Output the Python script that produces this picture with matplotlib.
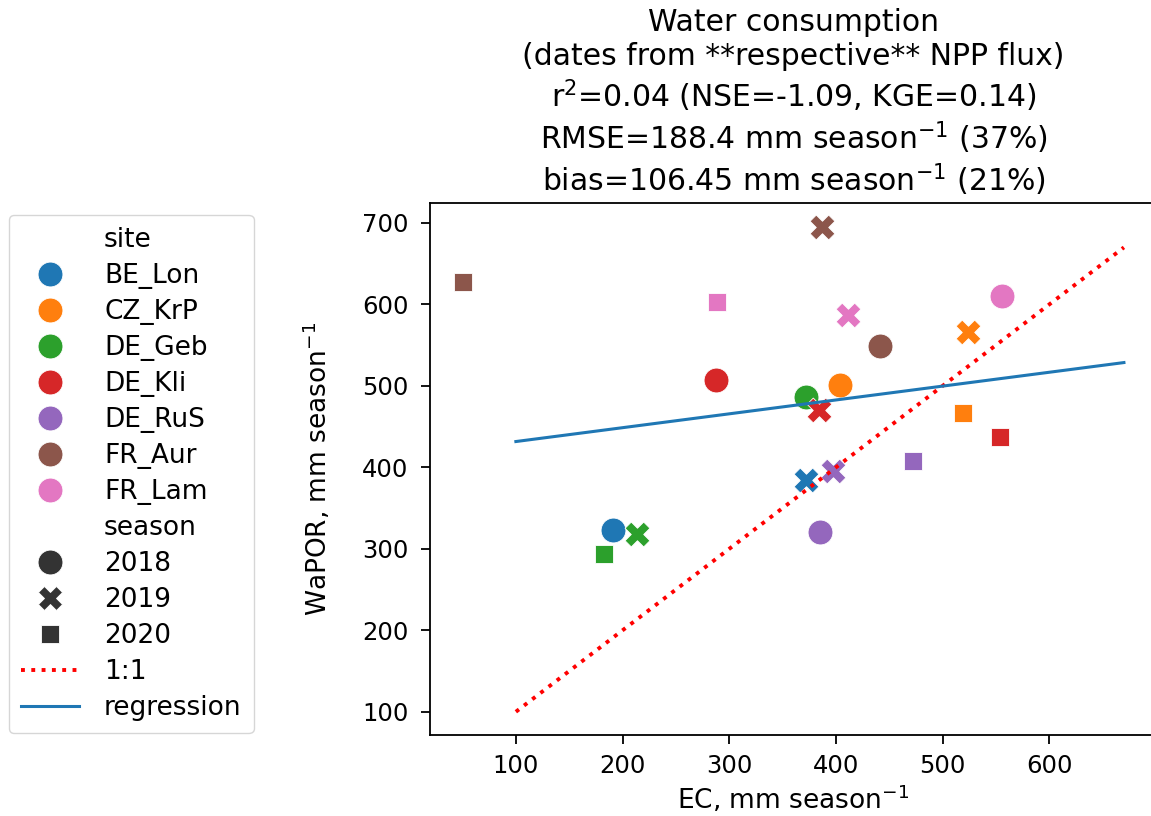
import numpy as np
import matplotlib
matplotlib.use("Agg")
import matplotlib.pyplot as plt
from matplotlib.lines import Line2D

# sites and seasons
sites = ['BE_Lon', 'CZ_KrP', 'DE_Geb', 'DE_Kli', 'DE_RuS', 'FR_Aur', 'FR_Lam']
seasons = [2018, 2019, 2020]

# one entry per site-season
point_site = ['BE_Lon', 'BE_Lon',
              'CZ_KrP', 'CZ_KrP', 'CZ_KrP',
              'DE_Geb', 'DE_Geb', 'DE_Geb',
              'DE_Kli', 'DE_Kli', 'DE_Kli',
              'DE_RuS', 'DE_RuS', 'DE_RuS',
              'FR_Aur', 'FR_Aur', 'FR_Aur',
              'FR_Lam', 'FR_Lam', 'FR_Lam']
point_season = [2018, 2019,
                2018, 2019, 2020,
                2018, 2019, 2020,
                2018, 2019, 2020,
                2018, 2019, 2020,
                2018, 2019, 2020,
                2018, 2019, 2020]
ec = [190.6, 372.4,
      403.7, 523.9, 519.2,
      372.4, 213.7, 182.5,
      287.2, 384.3, 553.6,
      385.3, 397.4, 472.7,
      441.2, 387.4, 50.6,
      555.8, 411.4, 289.0]
wapor = [323.1, 384.0,
         501.7, 566.3, 466.2,
         486.7, 317.9, 294.2,
         506.7, 470.2, 437.6,
         321.2, 395.5, 408.2,
         548.7, 695.0, 627.6,
         610.5, 587.6, 602.6]

# x range used for the 1:1 and regression lines
line_range = [100, 670]

title = ("Water consumption\n(dates from **respective** NPP flux)\n"
         "r$^2$=0.04 (NSE=-1.09, KGE=0.14)\n"
         "RMSE=188.4 mm season$^{-1}$ (37%)\n"
         "bias=106.45 mm season$^{-1}$ (21%)")

colors = dict(zip(sites, plt.get_cmap('tab10').colors))
markers = {2018: 'o', 2019: 'X', 2020: (4, 0, 45)}
msize = 320

plt.rcParams['axes.linewidth'] = 1.3

fig = plt.figure(figsize=(11.51, 8.16), dpi=100)
ax = fig.add_axes([430 / 1151, 81 / 816, 727 / 1151, 532 / 816])

for s, yr, x, y in zip(point_site, point_season, ec, wapor):
    ax.scatter(x, y, s=msize, color=colors[s], marker=markers[yr],
               edgecolors='white', linewidths=0.6, zorder=2)

ec_arr = np.array(ec)
wp_arr = np.array(wapor)
lx = np.array(line_range)
ax.plot(lx, lx, ':', color='red', lw=2.8, zorder=3)
slope, icpt = np.polyfit(ec_arr, wp_arr, 1)
ax.plot(lx, slope * lx + icpt, '-', color='#1f77b4', lw=2.2, zorder=3)

ax.set_xlim(19.5, 701)
ax.set_ylim(71.5, 724.5)
ax.set_xticks([100, 200, 300, 400, 500, 600])
ax.set_yticks([100, 200, 300, 400, 500, 600, 700])
ax.tick_params(labelsize=17.5, length=6.5, width=1.3)
ax.tick_params(axis='x', pad=7.5)
ax.tick_params(axis='y', pad=9)

ax.set_xlabel('EC, mm season$^{-1}$', fontsize=19, labelpad=4)
ax.set_ylabel('WaPOR, mm season$^{-1}$', fontsize=19)
ax.yaxis.set_label_coords(-0.133, 0.5)
ax.set_title(title, fontsize=21.5, linespacing=1.2, pad=8)

# legend: site colours, season markers, then the two lines
ms = np.sqrt(msize)
handles = [Line2D([], [], linestyle='', marker='')]
labels = ['site']
for s in sites:
    handles.append(Line2D([], [], linestyle='', marker='o', markersize=ms,
                          color=colors[s], markeredgecolor='white', markeredgewidth=0.6))
    labels.append(s)
handles.append(Line2D([], [], linestyle='', marker=''))
labels.append('season')
for yr in seasons:
    handles.append(Line2D([], [], linestyle='', marker=markers[yr], markersize=ms,
                          color='0.2', markeredgecolor='white', markeredgewidth=0.6))
    labels.append(str(yr))
handles.append(Line2D([], [], linestyle=':', color='red', lw=2.8))
labels.append('1:1')
handles.append(Line2D([], [], linestyle='-', color='#1f77b4', lw=2.2))
labels.append('regression')

fig.legend(handles, labels, loc='upper left', bbox_to_anchor=(9 / 1151, 1 - 215 / 816),
           borderaxespad=0, fontsize=19, handlelength=2.2, handletextpad=0.95,
           labelspacing=0.38, borderpad=0.45)

fig.savefig('out.png', dpi=100)
